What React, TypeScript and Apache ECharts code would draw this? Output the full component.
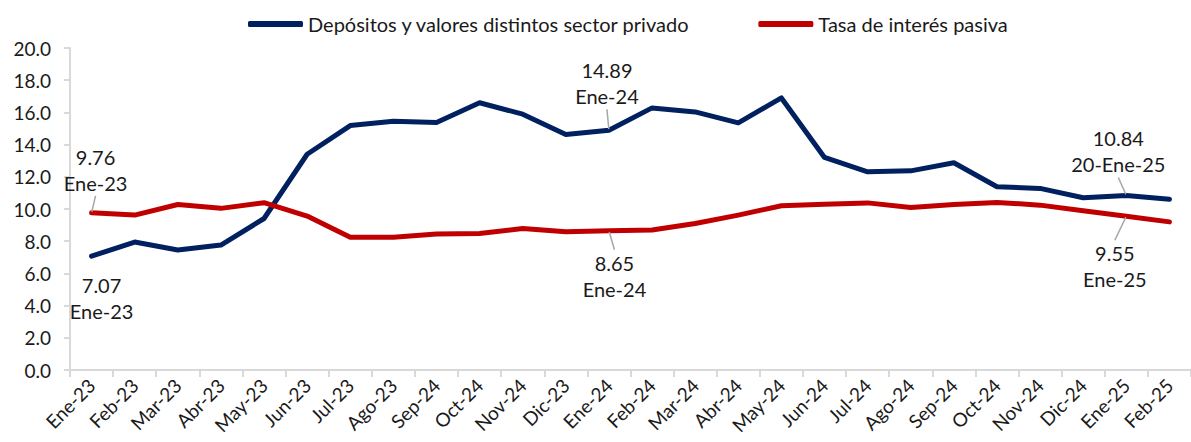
import React, { useEffect, useRef } from 'react';
import * as echarts from 'echarts';

const categories = [
  'Ene-23', 'Feb-23', 'Mar-23', 'Abr-23', 'May-23', 'Jun-23', 'Jul-23', 'Ago-23',
  'Sep-24', 'Oct-24', 'Nov-24', 'Dic-23', 'Ene-24', 'Feb-24', 'Mar-24', 'Abr-24',
  'May-24', 'Jun-24', 'Jul-24', 'Ago-24', 'Sep-24', 'Oct-24', 'Nov-24', 'Dic-24',
  'Ene-25', 'Feb-25',
];

const depositos = [
  7.07, 7.95, 7.45, 7.76, 9.41, 13.4, 15.18, 15.45, 15.37, 16.6, 15.89, 14.63, 14.89,
  16.28, 16.03, 15.35, 16.9, 13.2, 12.31, 12.37, 12.87, 11.38, 11.28, 10.7, 10.84, 10.61,
];

const tasa = [
  9.76, 9.62, 10.28, 10.04, 10.39, 9.56, 8.24, 8.24, 8.44, 8.48, 8.79, 8.58, 8.65,
  8.69, 9.1, 9.62, 10.2, 10.3, 10.38, 10.1, 10.28, 10.41, 10.24, 9.89, 9.55, 9.2,
];

const seriesNames = ['Depósitos y valores distintos sector privado', 'Tasa de interés pasiva'];

const depositosNotes = [
  { index: 0, date: 'Ene-23' },
  { index: 12, date: 'Ene-24' },
  { index: 24, date: '20-Ene-25' },
];
const tasaNotes = [
  { index: 0, date: 'Ene-23' },
  { index: 12, date: 'Ene-24' },
  { index: 24, date: 'Ene-25' },
];

const yTickLabels = ['0.0', '2.0', '4.0', '6.0', '8.0', '10.0', '12.0', '14.0', '16.0', '18.0', '20.0'];

const FONT = 'Lato';
const TEXT = '#1a1a1a';
const AXIS = '#d9d9d9';

type Note = { index: number; date: string };

function buildData(values: number[], notes: Note[], offsets: number[][], guides: boolean[]) {
  return values.map((v, i) => {
    const k = notes.findIndex((n) => n.index === i);
    if (k < 0) return v;
    return {
      value: v,
      label: {
        show: true,
        position: 'inside',
        offset: offsets[k],
        formatter: `${v.toFixed(2)}\n${notes[k].date}`,
      },
      labelLine: {
        show: guides[k],
        length2: 0,
        lineStyle: { color: '#a6a6a6', width: 1.5 },
      },
    };
  });
}

export default function App() {
  const ref = useRef<HTMLDivElement>(null);

  useEffect(() => {
    if (!ref.current) return;
    const chart = echarts.init(ref.current, undefined, { renderer: 'svg' });

    const labelStyle = {
      show: false,
      fontFamily: FONT,
      fontSize: 20,
      lineHeight: 26,
      color: TEXT,
      align: 'center',
      verticalAlign: 'middle',
    };

    chart.setOption({
      animation: false,
      backgroundColor: '#ffffff',
      textStyle: { fontFamily: FONT },
      legend: {
        top: 9,
        left: 243,
        itemWidth: 55,
        itemHeight: 6,
        itemGap: 68,
        icon: 'roundRect',
        textStyle: { fontFamily: FONT, fontSize: 20, color: TEXT },
        data: seriesNames,
      },
      grid: { left: 70, top: 48, bottom: 72, width: 1134, containLabel: false },
      xAxis: {
        type: 'category',
        data: categories,
        boundaryGap: true,
        axisLine: { show: true, lineStyle: { color: AXIS, width: 2 } },
        axisTick: { show: true, length: 7, lineStyle: { color: AXIS, width: 2 } },
        axisLabel: {
          interval: 0,
          rotate: 45,
          margin: 12,
          fontFamily: FONT,
          fontSize: 19,
          color: TEXT,
        },
        splitLine: { show: false },
      },
      yAxis: {
        type: 'value',
        min: 0,
        max: 20,
        interval: 2,
        axisLine: { show: true, lineStyle: { color: AXIS, width: 2 } },
        axisTick: { show: true, length: 6, lineStyle: { color: AXIS, width: 2 } },
        axisLabel: {
          margin: 19,
          fontFamily: FONT,
          fontSize: 19,
          color: TEXT,
          formatter: (v: number) => yTickLabels[Math.round(v / 2)] ?? v.toFixed(1),
        },
        splitLine: { show: false },
      },
      series: [
        {
          name: seriesNames[0],
          type: 'line',
          data: buildData(depositos, depositosNotes, [[10, 42], [-2, -47], [-8, -44]], [false, true, true]),
          symbol: 'circle',
          symbolSize: 2,
          showSymbol: true,
          showAllSymbol: true,
          color: '#002060',
          itemStyle: { color: '#002060' },
          lineStyle: { color: '#002060', width: 5, cap: 'round', join: 'round' },
          label: labelStyle,
          emphasis: { disabled: true },
          silent: true,
        },
        {
          name: seriesNames[1],
          type: 'line',
          data: buildData(tasa, tasaNotes, [[4, -43], [5.5, 45], [-11.5, 50]], [true, true, true]),
          symbol: 'circle',
          symbolSize: 2,
          showSymbol: true,
          showAllSymbol: true,
          color: '#c00000',
          itemStyle: { color: '#c00000' },
          lineStyle: { color: '#c00000', width: 5, cap: 'round', join: 'round' },
          label: labelStyle,
          emphasis: { disabled: true },
          silent: true,
        },
      ],
    });

    return () => chart.dispose();
  }, []);

  return (
    <div
      ref={ref}
      style={{ position: 'absolute', left: 0, top: 0, width: 1191, height: 442, background: '#fff' }}
    />
  );
}
